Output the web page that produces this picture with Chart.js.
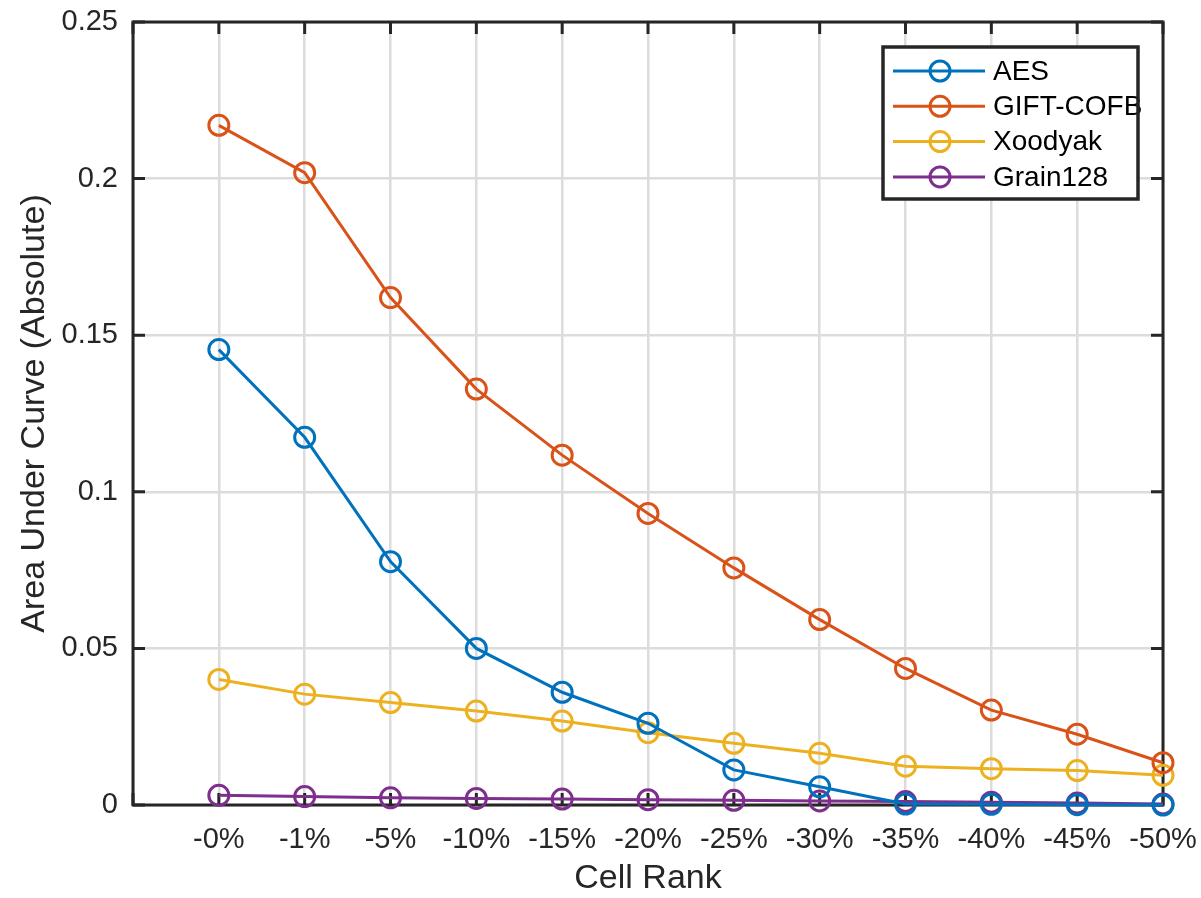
<!DOCTYPE html>
<html>
<head>
<meta charset="utf-8">
<script src="https://cdn.jsdelivr.net/npm/chart.js@4.4.0/dist/chart.umd.min.js"></script>
<style>
  body { margin: 0; background: #fff; }
  #wrap { width: 1201px; height: 898px; }
</style>
</head>
<body>
<div id="wrap"><canvas id="aucChart"></canvas></div>
<script>
  // values
  const cellRank = ['-0%', '-1%', '-5%', '-10%', '-15%', '-20%', '-25%', '-30%', '-35%', '-40%', '-45%', '-50%'];
  const yTickLabels = ['0', '0.05', '0.1', '0.15', '0.2', '0.25'];

  const aes      = [0.1454, 0.1174, 0.0777, 0.0500, 0.0360, 0.0261, 0.0112, 0.0058, 0.0003, 0.0002, 0.0001, 0.0000];
  const giftCofb = [0.2170, 0.2019, 0.1620, 0.1328, 0.1117, 0.0931, 0.0757, 0.0592, 0.0436, 0.0303, 0.0226, 0.0135];
  const xoodyak  = [0.0401, 0.0354, 0.0327, 0.0300, 0.0268, 0.0231, 0.0197, 0.0165, 0.0124, 0.0116, 0.0110, 0.0095];
  const grain128 = [0.0031, 0.0027, 0.0023, 0.0021, 0.0019, 0.0017, 0.0015, 0.0013, 0.0011, 0.0009, 0.0006, 0.0003];

  const FONT = "'Liberation Sans', Arial, Helvetica, sans-serif";
  const AXIS = '#262626';

  function toPoints(arr) {
    return arr.map((v, i) => ({ x: i + 1, y: v }));
  }

  function series(label, values, color) {
    return {
      label: label,
      data: toPoints(values),
      borderColor: color,
      backgroundColor: 'rgba(0,0,0,0)',
      borderWidth: 3,
      pointRadius: 10,
      pointHoverRadius: 10,
      pointBorderWidth: 3,
      pointBorderColor: color,
      pointBackgroundColor: 'rgba(0,0,0,0)',
      tension: 0,
      clip: false
    };
  }

  // box + inward ticks, drawn under the lines like matlab
  const boxPlugin = {
    id: 'boxPlugin',
    beforeDatasetsDraw(chart) {
      const { ctx, chartArea: a, scales } = chart;
      const tl = 12;
      ctx.save();
      ctx.strokeStyle = AXIS;
      ctx.lineWidth = 3;
      ctx.beginPath();
      scales.x.ticks.forEach(t => {
        const px = scales.x.getPixelForValue(t.value);
        ctx.moveTo(px, a.bottom); ctx.lineTo(px, a.bottom - tl);
        ctx.moveTo(px, a.top); ctx.lineTo(px, a.top + tl);
      });
      scales.y.ticks.forEach(t => {
        const py = scales.y.getPixelForValue(t.value);
        ctx.moveTo(a.left, py); ctx.lineTo(a.left + tl, py);
        ctx.moveTo(a.right, py); ctx.lineTo(a.right - tl, py);
      });
      ctx.stroke();
      ctx.strokeRect(a.left, a.top, a.right - a.left, a.bottom - a.top);
      ctx.restore();
    }
  };

  const legendPlugin = {
    id: 'legendPlugin',
    afterDraw(chart) {
      const { ctx, chartArea: a } = chart;
      const x0 = a.right - 280, y0 = a.top + 25, w = 255, h = 152;
      ctx.save();
      ctx.fillStyle = '#fff';
      ctx.fillRect(x0, y0, w, h);
      ctx.font = '28px ' + FONT;
      ctx.textBaseline = 'middle';
      chart.data.datasets.forEach((ds, i) => {
        const yy = y0 + 24 + i * 35.3;
        ctx.strokeStyle = ds.borderColor;
        ctx.lineWidth = 3;
        ctx.beginPath();
        ctx.moveTo(x0 + 10, yy); ctx.lineTo(x0 + 102, yy);
        ctx.stroke();
        ctx.beginPath();
        ctx.arc(x0 + 57, yy, 10, 0, Math.PI * 2);
        ctx.stroke();
        ctx.fillStyle = '#000';
        ctx.fillText(ds.label, x0 + 110, yy + 1);
      });
      ctx.strokeStyle = AXIS;
      ctx.lineWidth = 3.5;
      ctx.strokeRect(x0, y0, w, h);
      ctx.restore();
    }
  };

  const ctx = document.getElementById('aucChart').getContext('2d');
  new Chart(ctx, {
    type: 'line',
    data: {
      datasets: [
        series('AES', aes, '#0072BD'),
        series('GIFT-COFB', giftCofb, '#D95319'),
        series('Xoodyak', xoodyak, '#EDB120'),
        series('Grain128', grain128, '#7E2F8E')
      ]
    },
    options: {
      responsive: true,
      maintainAspectRatio: false,
      animation: false,
      layout: { padding: { top: 22, right: 38, left: 0, bottom: 0 } },
      plugins: {
        legend: { display: false },
        tooltip: { enabled: false }
      },
      scales: {
        x: {
          type: 'linear',
          min: 0,
          max: 12,
          afterFit: s => { s.height = 93; s.paddingLeft = 0; s.paddingRight = 0; },
          border: { display: false },
          grid: { color: '#dcdcdc', lineWidth: 2.5, drawTicks: false },
          ticks: {
            stepSize: 1,
            autoSkip: false,
            maxRotation: 0,
            padding: 18,
            color: AXIS,
            font: { family: FONT, size: 29 },
            callback: v => cellRank[v - 1] || ''
          },
          title: {
            display: true,
            text: 'Cell Rank',
            color: AXIS,
            font: { family: FONT, size: 34, lineHeight: 1 },
            padding: { top: 0, bottom: 2 }
          }
        },
        y: {
          min: 0,
          max: 0.25,
          afterFit: s => { s.width = 133; s.paddingTop = 0; s.paddingBottom = 0; },
          border: { display: false },
          grid: { color: '#dcdcdc', lineWidth: 2.5, drawTicks: false },
          ticks: {
            stepSize: 0.05,
            padding: 15,
            color: AXIS,
            font: { family: FONT, size: 29 },
            callback: (v, i) => yTickLabels[i]
          },
          title: {
            display: true,
            text: 'Area Under Curve (Absolute)',
            color: AXIS,
            font: { family: FONT, size: 34 },
            padding: { top: 14, bottom: 0 }
          }
        }
      }
    },
    plugins: [boxPlugin, legendPlugin]
  });
</script>
</body>
</html>
